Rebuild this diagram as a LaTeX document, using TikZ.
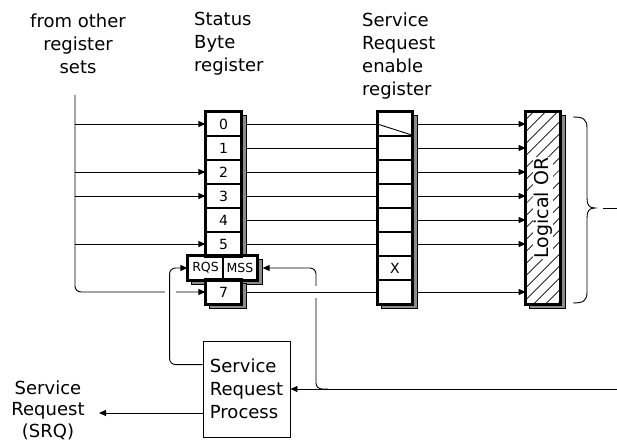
\documentclass[tikz,border=0pt]{standalone}
\usepackage{fontspec}
\setmainfont{DejaVu Sans}
\usetikzlibrary{arrows.meta,patterns.meta,calc}
\pgfdeclarelayer{bg}
\pgfsetlayers{bg,main}
\begin{document}
\begin{tikzpicture}[x=1pt,y=-1pt,
  every node/.style={inner sep=0pt},
  txt/.style={font=\fontsize{18}{23}\selectfont},
  conn/.style={line width=0.9pt},
  arr/.style={conn,-{Triangle[length=7pt,width=6pt]}},
  cell/.style={draw,fill=white,line width=1.3pt,minimum width=35pt,minimum height=24pt,font=\fontsize{14}{14}\selectfont},
  flagcell/.style={cell,font=\fontsize{12.5}{12.5}\selectfont},
  regframe/.style={draw,line width=2.4pt},
  shadow/.style={fill=black!45,draw=black,line width=0.5pt},
  gap/.style={white,line width=3.5pt}
]
\useasboundingbox (0,0) rectangle (617,441);

% Status Byte register
\foreach \i in {0,...,5} \node[cell] (sb\i) at (223.5,124+24*\i) {\i};
\node[flagcell] (rqs) at (205.5,268) {RQS};
\node[flagcell,minimum width=34pt] (mss) at (240,268) {MSS};
\node[cell] (sb7) at (223.5,292) {7};

% Service Request enable register
\foreach \i in {0,1,2,3,4,5,7} \node[cell,minimum width=34pt] (e\i) at (395,124+24*\i) {};
\node[cell,minimum width=34pt] (e6) at (395,268) {X};

% Logical OR block
\node[minimum width=34pt,minimum height=192pt,preaction={fill=white},
      pattern={Lines[angle=45,distance=8.5pt,line width=0.7pt]}] (orb) at (543,208) {};
\node[rotate=90,fill=white,inner sep=1pt,font=\fontsize{19}{19}\selectfont] (ortext) at (orb.center) {Logical OR};

% heavy outlines of the registers
\draw[regframe] (sb0.north west) rectangle (sb5.south east);
\draw[regframe] (rqs.north west) rectangle (mss.south east);
\draw[regframe] (sb7.north west) rectangle (sb7.south east);
\draw[regframe] (e0.north west) rectangle (e7.south east);
\draw[regframe] (orb.north west) rectangle (orb.south east);
\draw[conn] (e0.west) -- ([shift={(-2,-2)}]e0.south east);

% page background and drop shadows
\begin{pgfonlayer}{bg}
\fill[white] (0,0) rectangle (617,441);
\path[shadow] ([shift={(4,4)}]sb0.north west) rectangle ([shift={(5,4)}]sb5.south east);
\path[shadow] ([shift={(4,4)}]rqs.north west) rectangle ([shift={(5,4)}]mss.south east);
\path[shadow] ([shift={(4,4)}]sb7.north west) rectangle ([shift={(5,4)}]sb7.south east);
\path[shadow] ([shift={(4,4)}]e0.north west) rectangle ([shift={(5,4)}]e7.south east);
\path[shadow] ([shift={(4,4)}]orb.north west) rectangle ([shift={(5,4)}]orb.south east);
\end{pgfonlayer}

% Service Request Process
\node[txt,draw,line width=0.9pt,align=left,minimum width=87pt,minimum height=96pt] (srp) at (246.5,389) {Service\\Request\\Process};

% titles
\node[txt,align=center] (from) at (78,44) {from other\\register\\sets};
\node[txt,align=left,anchor=west] (sbt) at (194,44) {Status\\Byte\\register};
\node[txt,align=left,anchor=west] (sret) at (362,56) {Service\\Request\\enable\\register};
\node[align=center,font=\fontsize{18}{21.5}\selectfont] (srq) at (48,410) {Service\\Request\\(SRQ)};

% inputs from other register sets
\coordinate (busTop) at (75,95);
\foreach \i in {0,2,3,5} \draw[arr] (busTop |- sb\i.west) -- (sb\i.west);
\draw[arr,rounded corners=6pt] (busTop) |- (sb7.west);
\draw[gap] (165,292) -- (176,292);

% RQS feedback from the Service Request Process
\draw[arr,rounded corners=6pt] ([yshift=-24pt]srp.north west) -- ++(-33,0) |- (rqs.west);

% summary line into the process and back to MSS
\coordinate (busIn) at (617,389);
\coordinate (jn) at (316,389);
\draw[arr] (busIn) -- (srp.east);
\draw[arr,rounded corners=6pt] ([xshift=12pt]jn) -- (jn) |- ([xshift=5pt]mss.east);
\draw[gap] (316,286) -- (316,298);

% status bits through the enable register into the OR
\foreach \i in {0,1,2,3,4,5,7} {
  \draw[conn] ([xshift=5pt]sb\i.east) -- (e\i.west);
  \draw[arr] ([xshift=5pt]e\i.east) -- (orb.west |- e\i.west);
}

% SRQ output
\coordinate (srqTip) at (99,413);
\draw[arr] (srp.west |- srqTip) -- (srqTip);

% brace collecting the OR output
\draw[conn] (573,117) .. controls (583,117) and (587,119) .. (587,128) -- (587,198)
  .. controls (587,205) and (589,208) .. (595,208)
  .. controls (589,208) and (587,211) .. (587,218) -- (587,292)
  .. controls (587,301) and (583,303) .. (573,303);
\coordinate (brTip) at (603,208);
\coordinate (outR) at (617,208);
\draw[conn] (brTip) -- (outR);
\end{tikzpicture}
\end{document}
